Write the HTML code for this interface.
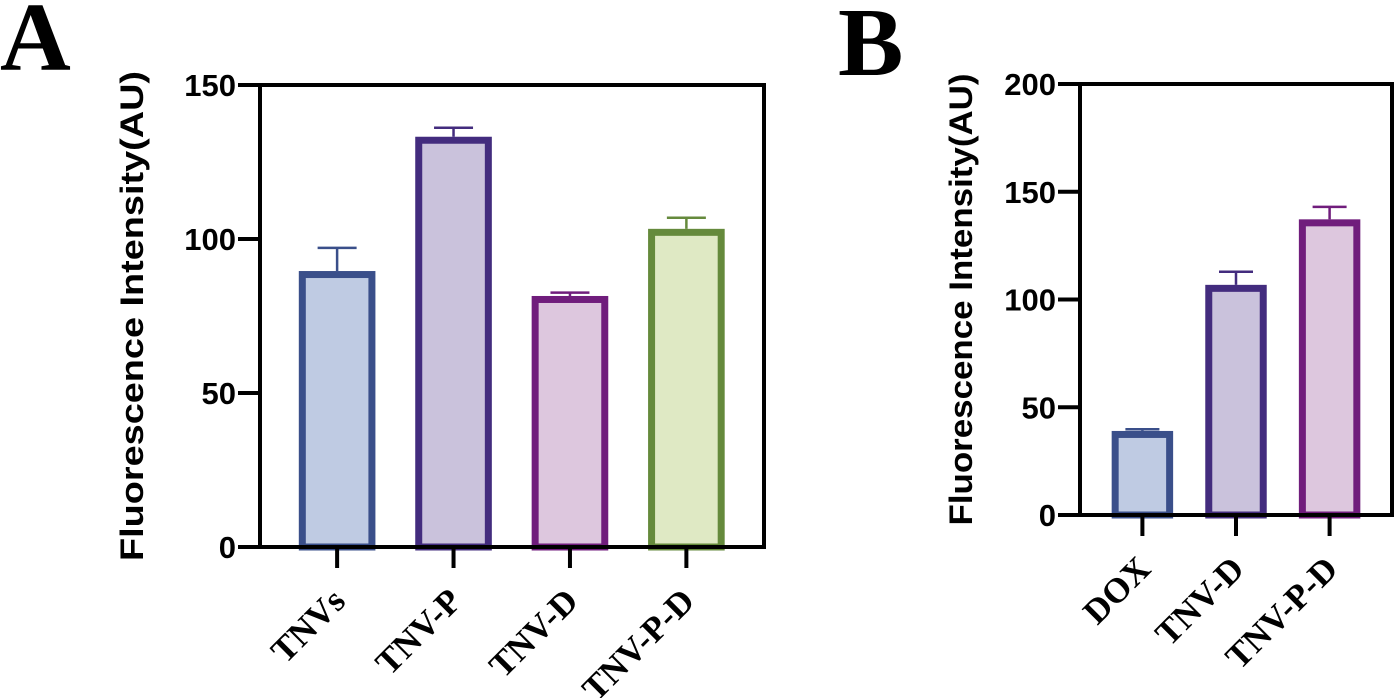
<!DOCTYPE html>
<html><head><meta charset="utf-8"><style>
html,body{margin:0;padding:0;background:#fff;}
svg{display:block;}
</style></head><body>
<svg id="chart" width="1400" height="698" viewBox="0 0 1400 698" xmlns="http://www.w3.org/2000/svg">
<text x="0" y="70" font-family="Liberation Serif, serif" font-weight="bold" font-size="98">A</text>
<text x="838" y="75" font-family="Liberation Serif, serif" font-weight="bold" font-size="98">B</text>
<g id="pa"></g>
<g id="pb"></g>
</svg>
<script>
const catsA = ["TNVs","TNV-P","TNV-D","TNV-P-D"];
const valsA = [89.6,133.2,81.5,103.3];
const errA = [97.1,136.1,82.6,106.9];
const ticksA = [0,50,100,150];
const catsB = ["DOX","TNV-D","TNV-P-D"];
const valsB = [39.0,106.8,137.2];
const errB = [39.8,112.9,143.0];
const ticksB = [0,50,100,150,200];

const NS="http://www.w3.org/2000/svg";
function mk(parent,tag,attrs){const e=document.createElementNS(NS,tag);for(const k in attrs)e.setAttribute(k,attrs[k]);parent.appendChild(e);return e;}

const styleA=[["#3a4f8a","#bfcbe3"],["#432c7e","#cac2dc"],["#701d7c","#ddc7de"],["#658a3c","#dfe9c4"]];
const styleB=[["#3a4f8a","#bfcbe3"],["#432c7e","#cac2dc"],["#701d7c","#ddc7de"]];

function panel(g,cats,vals,errs,ticks,styles,cfg){
  const L=cfg.L,R=cfg.R,T=cfg.T,B=cfg.B,max=ticks[ticks.length-1];
  const W=R-L;
  const y=v=>B-(v/max)*(B-T);
  const x=i=>L+W*(cfg.c0+cfg.d*i);
  const bw=W*cfg.bwFrac;
  cats.forEach((c,i)=>{
    const [stroke,fill]=styles[i];
    const top=y(vals[i]);
    const ln=mk(g,"line",{x1:x(i),x2:x(i),y1:y(errs[i]),y2:top,stroke:stroke,"stroke-width":2.5});
    
    
    const cap=mk(g,"line",{x1:x(i)-cfg.cap/2,x2:x(i)+cfg.cap/2,y1:y(errs[i]),y2:y(errs[i]),stroke:stroke,"stroke-width":2.5});
    
    
    const r=mk(g,"rect",{x:x(i)-bw/2+3.5,y:top+3.5,width:bw-7,height:B-top-3.5,fill:fill,stroke:stroke,"stroke-width":7});
    
    
    const tk=mk(g,"line",{x1:x(i),x2:x(i),y1:B,y2:B+21,stroke:"#000","stroke-width":4});
    
    
    const lx=x(i)+10,ly=B+56;
    const t=mk(g,"text",{x:lx,y:ly,"text-anchor":"end",transform:`rotate(-45 ${lx} ${ly})`,"font-family":"Liberation Serif, serif","font-weight":"bold","font-size":cfg.xfs});
    t.textContent=c;
    
    
  });
  const box=mk(g,"rect",{x:L,y:T,width:R-L,height:B-T,fill:"none",stroke:"#000","stroke-width":4});
  
  
  ticks.forEach(v=>{
    const tl=mk(g,"line",{x1:L-22,x2:L,y1:y(v),y2:y(v),stroke:"#000","stroke-width":4});
    
    
    const tt=mk(g,"text",{x:L-24,y:y(v)+11,"text-anchor":"end","font-family":"Liberation Sans, sans-serif","font-weight":"bold","font-size":31});
    tt.textContent=v;
    
    
  });
  const cx=cfg.titleX,cy=(T+B)/2;
  const at=mk(g,"text",{x:cx,y:cy,"text-anchor":"middle",transform:`rotate(-90 ${cx} ${cy})`,"font-family":"Liberation Sans, sans-serif","font-weight":"bold","font-size":32,textLength:cfg.titleLen,lengthAdjust:"spacingAndGlyphs"});
  at.textContent="Fluorescence Intensity(AU)";
  
  
}
panel(document.getElementById("pa"),catsA,valsA,errA,ticksA,styleA,{L:260,R:764,T:85,B:547,c0:0.153,d:0.231,bwFrac:0.152,cap:39,xfs:35,titleX:143,titleLen:490});
panel(document.getElementById("pb"),catsB,valsB,errB,ticksB,styleB,{L:1080,R:1392,T:84,B:515,c0:0.2,d:0.3,bwFrac:0.197,cap:34,xfs:35,titleX:972,titleLen:452});
</script>
</body></html>
